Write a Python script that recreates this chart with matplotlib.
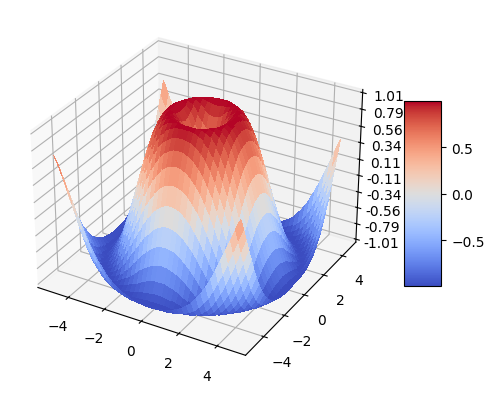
import matplotlib
matplotlib.use("Agg")
import matplotlib.pyplot as plt
from matplotlib import cm
from matplotlib.ticker import FormatStrFormatter
import numpy as np

# older style margin around the 3d box
plt.rcParams['axes3d.automargin'] = True

# grid of the surface
x_vals = np.arange(-5, 5, 0.25)
y_vals = np.arange(-5, 5, 0.25)

# z axis labels as printed in the picture
z_ticks = [-1.01, -0.79, -0.56, -0.34, -0.11, 0.11, 0.34, 0.56, 0.79, 1.01]

# heights read for one eighth of the surface, it is symmetric around the middle
# row n starts at n steps from the centre on both axes
z_rows = [
    [0.00, 0.25, 0.48, 0.68, 0.84, 0.95, 1.00, 0.98, 0.91, 0.78, 0.60, 0.38, 0.14, -0.11, -0.35, -0.57, -0.76, -0.89, -0.98, -1.00, -0.96],
    [0.35, 0.53, 0.71, 0.86, 0.96, 1.00, 0.98, 0.90, 0.77, 0.59, 0.37, 0.13, -0.12, -0.36, -0.58, -0.76, -0.90, -0.98, -1.00, -0.96],
    [0.65, 0.78, 0.90, 0.97, 1.00, 0.97, 0.88, 0.74, 0.56, 0.34, 0.10, -0.15, -0.38, -0.60, -0.78, -0.91, -0.98, -1.00, -0.95],
    [0.87, 0.95, 0.99, 0.99, 0.94, 0.84, 0.70, 0.51, 0.29, 0.05, -0.19, -0.42, -0.63, -0.80, -0.92, -0.99, -1.00, -0.94],
    [0.99, 1.00, 0.97, 0.90, 0.79, 0.63, 0.43, 0.21, -0.02, -0.26, -0.48, -0.67, -0.83, -0.94, -0.99, -0.99, -0.93],
    [0.98, 0.93, 0.84, 0.71, 0.54, 0.34, 0.12, -0.11, -0.33, -0.54, -0.72, -0.87, -0.96, -1.00, -0.98, -0.90],
    [0.85, 0.74, 0.60, 0.42, 0.22, 0.01, -0.21, -0.42, -0.62, -0.78, -0.90, -0.98, -1.00, -0.96, -0.87],
    [0.62, 0.47, 0.29, 0.09, -0.12, -0.33, -0.52, -0.70, -0.84, -0.94, -0.99, -0.99, -0.94, -0.83],
    [0.31, 0.13, -0.06, -0.26, -0.45, -0.62, -0.78, -0.89, -0.97, -1.00, -0.98, -0.90, -0.78],
    [-0.04, -0.22, -0.40, -0.57, -0.72, -0.85, -0.94, -0.99, -1.00, -0.95, -0.86, -0.72],
    [-0.38, -0.54, -0.69, -0.82, -0.92, -0.98, -1.00, -0.98, -0.91, -0.79, -0.63],
    [-0.68, -0.80, -0.90, -0.97, -1.00, -0.99, -0.94, -0.85, -0.71, -0.55],
    [-0.89, -0.96, -0.99, -1.00, -0.96, -0.88, -0.77, -0.62, -0.44],
    [-0.99, -1.00, -0.97, -0.90, -0.80, -0.67, -0.50, -0.32],
    [-0.97, -0.91, -0.82, -0.70, -0.55, -0.37, -0.18],
    [-0.83, -0.72, -0.58, -0.41, -0.23, -0.03],
    [-0.59, -0.43, -0.26, -0.07, 0.12],
    [-0.27, -0.09, 0.09, 0.27],
    [0.08, 0.26, 0.43],
    [0.42, 0.58],
    [0.71],
]

# put the full grid together from the table
steps_x = np.abs(np.arange(len(x_vals)) - 20)
steps_y = np.abs(np.arange(len(y_vals)) - 20)
Z = np.zeros((len(y_vals), len(x_vals)))
for i, b in enumerate(steps_y):
    for j, a in enumerate(steps_x):
        lo, hi = min(a, b), max(a, b)
        Z[i, j] = z_rows[lo][hi - lo]

X, Y = np.meshgrid(x_vals, y_vals)

fig, ax = plt.subplots(subplot_kw={"projection": "3d"})
surf = ax.plot_surface(X, Y, Z, cmap=cm.coolwarm, linewidth=0, antialiased=False)

ax.set_zlim(-1.01, 1.01)
ax.set_zticks(z_ticks)
ax.zaxis.set_major_formatter(FormatStrFormatter('%.02f'))

fig.colorbar(surf, shrink=0.5, aspect=5)

fig.savefig("out.png", dpi=100, bbox_inches="tight")
